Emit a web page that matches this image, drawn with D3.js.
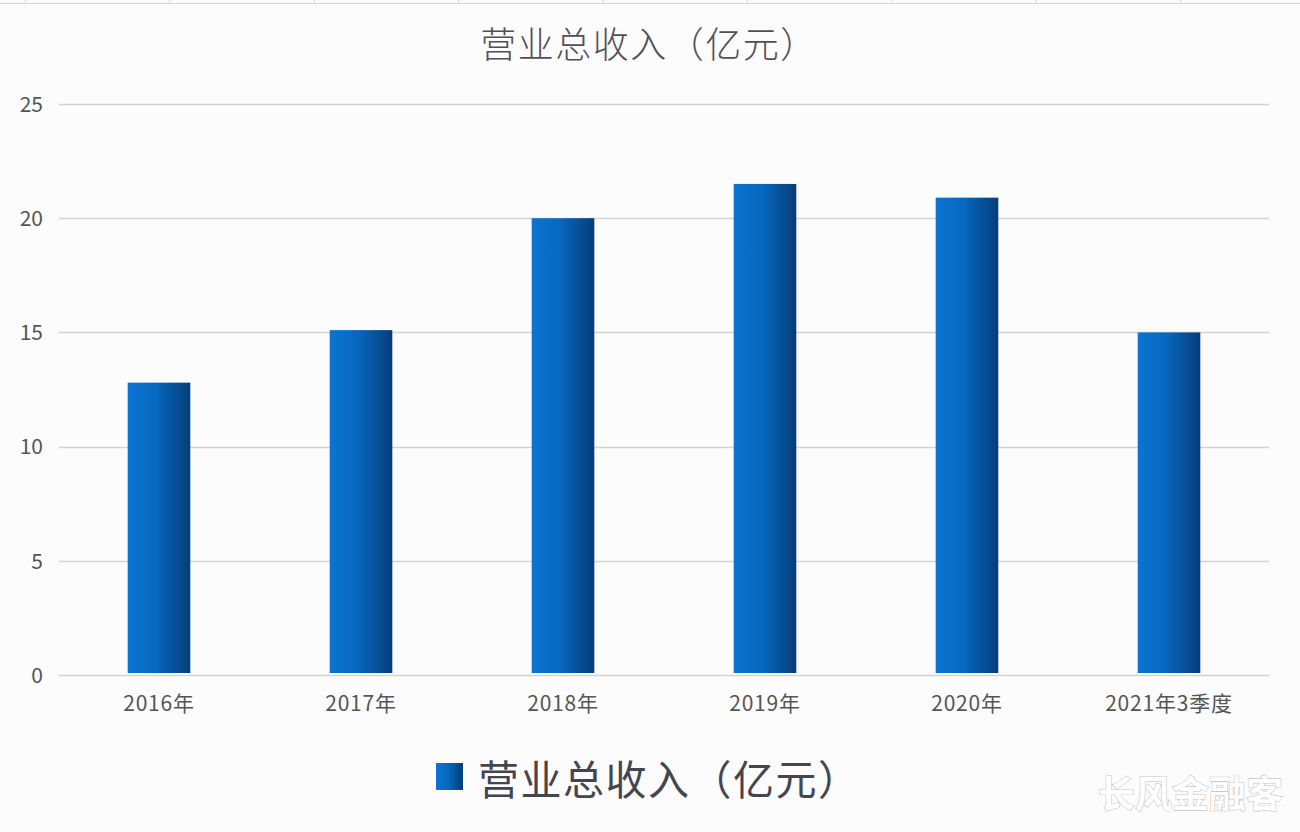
<!DOCTYPE html>
<html><head><meta charset="utf-8">
<script src="https://cdn.jsdelivr.net/npm/d3@7"></script>
<style>
html,body{margin:0;padding:0;background:#fcfcfc;}
svg{display:block;}
</style></head><body>
<script>
const categories = ["2016年","2017年","2018年","2019年","2020年","2021年3季度"];
const values = [12.8, 15.1, 20.0, 21.5, 20.9, 15.0];
const yTicks = [0,5,10,15,20,25];
const titleText = "营业总收入（亿元）";
const watermark = "长风金融客";

const W = 1300, H = 832;
const svg = d3.select("body").append("svg").attr("width", W).attr("height", H);
const cjk = "'Noto Sans CJK SC','Noto Sans',sans-serif";

const defs = svg.append("defs");
const grad = defs.append("linearGradient").attr("id","barGrad").attr("x1","0").attr("x2","1").attr("y1","0").attr("y2","0");
grad.append("stop").attr("offset","0%").attr("stop-color","#0b74d2");
grad.append("stop").attr("offset","45%").attr("stop-color","#0668bf");
grad.append("stop").attr("offset","100%").attr("stop-color","#063d78");

svg.append("rect").attr("width",W).attr("height",H).attr("fill","#fcfcfc");

// faint spreadsheet grid at top
const sheetCols = d3.range(9);
svg.append("line").attr("x1",0).attr("x2",W).attr("y1",3.5).attr("y2",3.5).attr("stroke","#d6d6d6");
svg.selectAll(".sc").data(sheetCols).join("line")
  .attr("x1",(d)=>25+d*144.4+0.5).attr("x2",(d)=>25+d*144.4+0.5).attr("y1",0).attr("y2",4)
  .attr("stroke","#d6d6d6");

const x = d3.scaleBand().domain(categories).range([58, 1270]).paddingInner(0.69).paddingOuter(0.345);
const y = d3.scaleLinear().domain([0,25]).range([675, 104]);

// gridlines
svg.append("g").selectAll("line").data(yTicks).join("line")
  .attr("x1",59).attr("x2",1269)
  .attr("y1",d=>Math.round(y(d))+0.5).attr("y2",d=>Math.round(y(d))+0.5)
  .attr("stroke","#d3d3d3").attr("stroke-width",1.3);

// y axis labels
const yAxis = d3.axisLeft(y).tickValues(yTicks).tickSize(0).tickPadding(0);
const gy = svg.append("g").attr("transform","translate(43,0)").call(yAxis);
gy.select(".domain").remove();
gy.selectAll("text").attr("font-family",cjk).attr("font-size",21).attr("fill","#555555").attr("dy","0.35em");

// bars
svg.append("g").selectAll("rect").data(values).join("rect")
  .attr("x",(d,i)=>x(categories[i]))
  .attr("width",x.bandwidth())
  .attr("y",d=>y(d))
  .attr("height",d=>y(0)-y(d)-2)
  .attr("fill","url(#barGrad)");

// x axis labels
const xAxis = d3.axisBottom(x).tickSize(0).tickPadding(0);
const gx = svg.append("g").attr("transform","translate(0,704)").call(xAxis);
gx.select(".domain").remove();
gx.selectAll("text").attr("font-family",cjk).attr("font-size",21).attr("letter-spacing","0.8px")
  .attr("fill","#555555").attr("dy","0.35em");

// title
svg.append("text").attr("x",649).attr("y",42).attr("text-anchor","middle").attr("dominant-baseline","central")
  .attr("font-family",cjk).attr("font-weight",300).attr("font-size",36).attr("letter-spacing","1.5px").attr("fill","#505058")
  .text(titleText);

// legend
svg.append("rect").attr("x",436).attr("y",763).attr("width",27).attr("height",27).attr("fill","url(#barGrad)");
svg.append("text").attr("x",478).attr("y",777).attr("dominant-baseline","central")
  .attr("font-family",cjk).attr("font-size",41).attr("letter-spacing","1.5px").attr("fill","#45454f")
  .text(titleText);

// watermark
svg.append("text").attr("x",1283).attr("y",792).attr("text-anchor","end").attr("dominant-baseline","central")
  .attr("font-family",cjk).attr("font-weight",700).attr("font-size",37).attr("fill","#ffffff")
  .attr("stroke","#c8c8c8").attr("stroke-width",1.2).attr("paint-order","stroke")
  .text(watermark);
</script>
</body></html>
